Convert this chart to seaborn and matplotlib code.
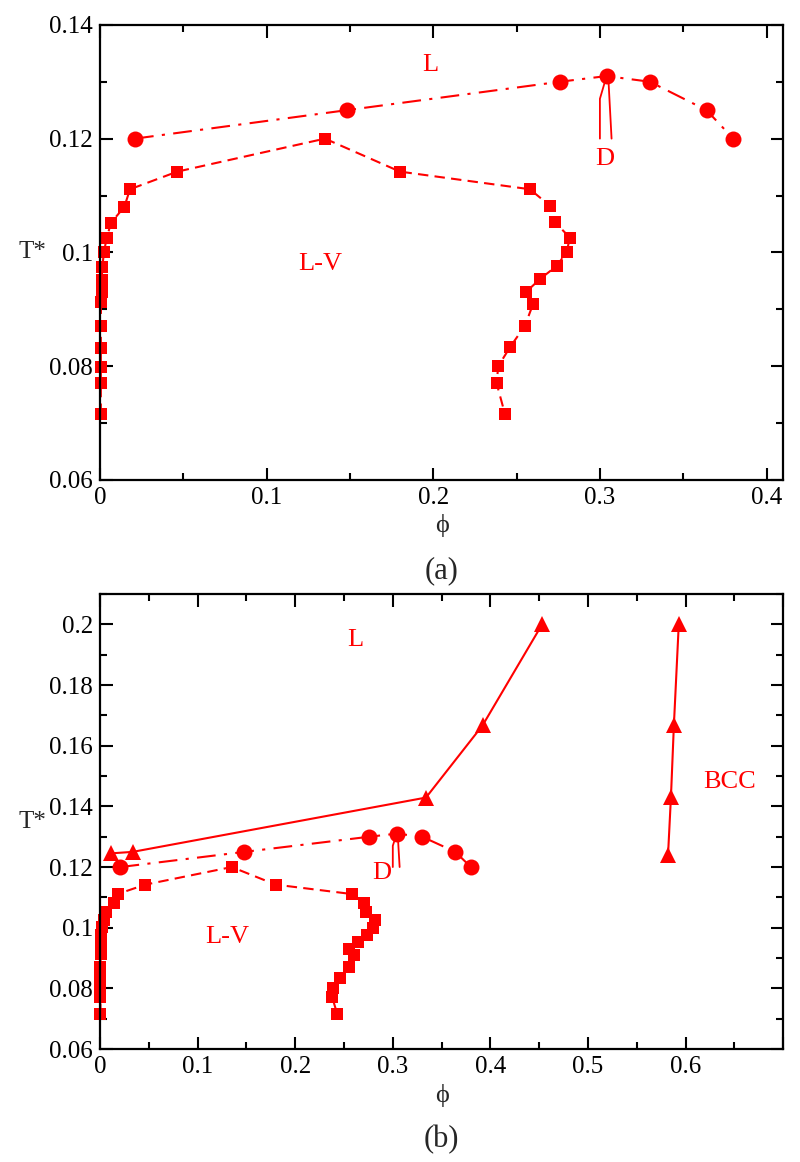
import seaborn as sns
import matplotlib.pyplot as plt
from matplotlib.ticker import MultipleLocator, FuncFormatter

# liquid-vapour coexistence (squares): up the vapour side, over the top, down the liquid side
lv_phi = [0.0005, 0.0005, 0.0005, 0.0005, 0.0005, 0.0006, 0.001, 0.001, 0.0014, 0.0024,
          0.004, 0.0066, 0.0146, 0.018, 0.0464, 0.135, 0.18,
          0.258, 0.270, 0.273, 0.282, 0.280, 0.274, 0.264, 0.2555, 0.260, 0.255,
          0.246, 0.239, 0.238, 0.243]
lv_t = [0.0716, 0.0770, 0.0799, 0.0832, 0.0870, 0.0913, 0.0931, 0.0952, 0.0975, 0.1001,
        0.1025, 0.1052, 0.1080, 0.1111, 0.1142, 0.120, 0.1142,
        0.1111, 0.1082, 0.1053, 0.1026, 0.1000, 0.0976, 0.0953, 0.0930, 0.0910, 0.0871,
        0.0833, 0.0800, 0.0770, 0.0716]

# liquid - D phase boundary (circles)
ld_phi = [0.021, 0.148, 0.276, 0.304, 0.330, 0.364, 0.380]
ld_t = [0.120, 0.125, 0.130, 0.131, 0.130, 0.125, 0.120]

# fluid / BCC coexistence (triangles), panel (b) only
fl_phi = [0.011, 0.0335, 0.334, 0.392, 0.453]
fl_t = [0.1245, 0.125, 0.1429, 0.1667, 0.200]
bcc_phi = [0.582, 0.585, 0.588, 0.593]
bcc_t = [0.124, 0.1432, 0.1668, 0.200]

RED = "#ff0000"

sns.set_style("ticks")
plt.rcParams["font.family"] = ["Liberation Serif", "DejaVu Serif"]


def fmt(v, pos):
    s = "%.2f" % v
    s = s.rstrip("0").rstrip(".")
    return s


def style_axes(ax, xmax, ymin, ymax, xticks_max):
    ax.set_xlim(0, xmax)
    ax.set_ylim(ymin, ymax)
    ax.xaxis.set_major_locator(MultipleLocator(0.1))
    ax.xaxis.set_minor_locator(MultipleLocator(0.05))
    ax.yaxis.set_major_locator(MultipleLocator(0.02))
    ax.yaxis.set_minor_locator(MultipleLocator(0.01))
    ax.xaxis.set_major_formatter(FuncFormatter(lambda v, p: fmt(v, p) if v <= xticks_max + 1e-9 else ""))
    ax.yaxis.set_major_formatter(FuncFormatter(fmt))
    ax.tick_params(which="both", direction="in", top=True, right=True, width=1.5, colors="black")
    ax.tick_params(which="major", length=9, labelsize=18, pad=5)
    ax.tick_params(which="minor", length=5)
    for s in ax.spines.values():
        s.set_linewidth(1.6)
        s.set_color("black")
        s.set_zorder(5)
    ax.set_xlabel("ϕ", fontsize=19, labelpad=4)
    ax.set_ylabel("T*", fontsize=18, rotation=0, labelpad=12, va="center")


def draw_common(ax):
    sns.lineplot(x=lv_phi, y=lv_t, ax=ax, sort=False, estimator=None, color=RED,
                 linestyle=(0, (5, 3)), linewidth=1.5, marker="s", markersize=9,
                 markeredgecolor=RED, markeredgewidth=0, clip_on=False, zorder=3)
    sns.lineplot(x=ld_phi, y=ld_t, ax=ax, sort=False, estimator=None, color=RED,
                 linestyle=(0, (9, 4, 1.5, 4)), linewidth=1.5, marker="o", markersize=11.5,
                 markeredgecolor=RED, markeredgewidth=0, zorder=3)
    # thin pointer lines for the D label
    ax.plot([0.304, 0.3, 0.3], [0.131, 0.127, 0.12], color=RED, lw=1.3)
    ax.plot([0.305, 0.307], [0.131, 0.12], color=RED, lw=1.3)


fig = plt.figure(figsize=(8, 11.62), dpi=100)
ax1 = fig.add_axes([0.125, 0.587, 0.854, 0.3916])
ax2 = fig.add_axes([0.125, 0.0972, 0.854, 0.3916])

# panel (a)
draw_common(ax1)
style_axes(ax1, 0.41, 0.06, 0.14, 0.4)
ax1.text(0.198, 0.133, "L", color=RED, fontsize=19, ha="center", va="center")
ax1.text(0.132, 0.098, "L-V", color=RED, fontsize=19, ha="center", va="center")
ax1.text(0.303, 0.1165, "D", color=RED, fontsize=19, ha="center", va="center")
ax1.text(0.5, -0.2, "(a)", transform=ax1.transAxes, fontsize=22, ha="center", va="center")

# panel (b)
draw_common(ax2)
sns.lineplot(x=fl_phi, y=fl_t, ax=ax2, sort=False, estimator=None, color=RED,
             linewidth=1.5, marker="^", markersize=11.5, markeredgecolor=RED,
             markeredgewidth=0, zorder=3)
sns.lineplot(x=bcc_phi, y=bcc_t, ax=ax2, sort=False, estimator=None, color=RED,
             linewidth=1.5, marker="^", markersize=11.5, markeredgecolor=RED,
             markeredgewidth=0, zorder=3)
style_axes(ax2, 0.7, 0.06, 0.21, 0.6)
ax2.text(0.262, 0.195, "L", color=RED, fontsize=19, ha="center", va="center")
ax2.text(0.13, 0.097, "L-V", color=RED, fontsize=19, ha="center", va="center")
ax2.text(0.289, 0.118, "D", color=RED, fontsize=19, ha="center", va="center")
ax2.text(0.645, 0.148, "BCC", color=RED, fontsize=19, ha="center", va="center")
ax2.text(0.5, -0.2, "(b)", transform=ax2.transAxes, fontsize=22, ha="center", va="center")

fig.savefig("out.png", dpi=100)
